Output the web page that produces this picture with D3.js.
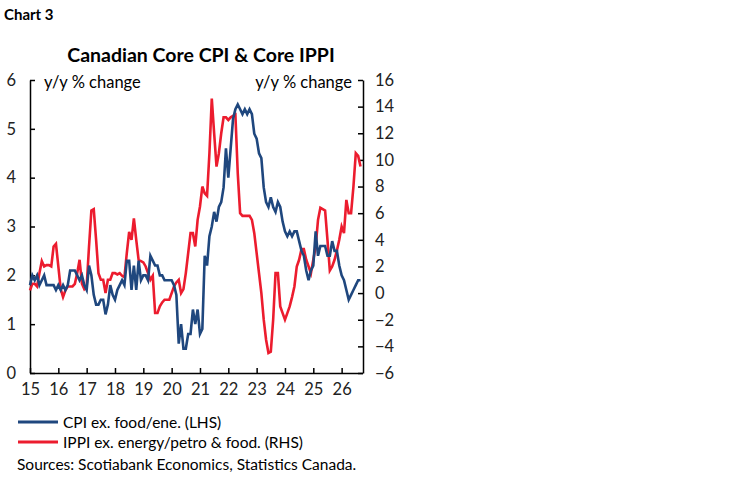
<!DOCTYPE html><html><head><meta charset="utf-8">
<script src="https://cdn.jsdelivr.net/npm/d3@7"></script>
<style>body{margin:0;background:#fff}text{font-family:Lato,"Open Sans",sans-serif}</style></head><body>
<svg id="c" width="748" height="483"></svg>
<script>
const cpi=[1.8,2.0,1.9,2.0,1.8,1.9,2.0,1.8,1.8,1.8,1.8,1.7,
1.8,1.7,1.8,1.7,1.8,2.1,2.1,2.1,2.0,1.9,2.0,1.8,
1.7,2.2,2.0,1.6,1.4,1.4,1.5,1.5,1.2,1.4,1.8,1.6,
1.5,1.7,1.8,1.9,1.8,2.3,2.3,1.7,2.2,1.7,2.3,1.9,
2.0,2.0,1.9,2.4,2.3,2.2,2.2,2.0,2.0,1.9,1.9,1.9,
1.9,1.8,1.6,0.6,1.0,0.5,0.5,0.8,0.8,1.3,1.0,1.3,
0.8,0.9,2.4,2.2,2.8,3.0,3.3,3.1,3.4,3.5,3.8,4.6,
4.0,4.6,5.2,5.4,5.5,5.4,5.3,5.4,5.3,5.4,5.3,4.9,
4.8,4.5,4.4,3.8,3.5,3.4,3.6,3.4,3.3,3.5,3.4,3.1,
2.9,2.8,2.9,2.8,2.9,2.9,2.7,2.5,2.4,2.1,1.9,2.1,
2.2,2.9,2.4,2.6,2.6,2.6,2.4,2.4,2.7,2.5,2.5,2.2,
2.0,1.9,1.7,1.5,1.6,1.7,1.8,1.9,1.9];
const ippi=[0.2,0.7,0.7,0.5,1.5,2.4,2.0,2.1,2.1,2.0,3.5,3.7,
2.0,0.3,-0.3,0.2,0.5,0.5,0.5,0.7,1.5,2.5,0.7,0.3,
0.5,3.5,6.2,6.3,4.0,1.5,1.0,1.0,0.0,1.0,1.0,1.5,
1.5,1.4,1.5,1.3,1.2,3.0,4.6,4.0,5.6,4.0,2.5,2.4,
2.3,2.0,1.5,1.0,1.3,-1.5,-1.5,-1.0,-0.7,-0.5,-0.5,-0.5,
0.0,0.5,0.8,1.0,0.0,0.3,1.5,3.0,4.5,4.5,3.5,5.5,
6.5,8.0,7.5,7.3,10.5,14.6,12.0,9.5,10.5,12.0,13.2,13.2,
13.0,13.2,13.3,13.4,9.0,6.0,5.8,5.8,5.8,5.8,5.5,4.5,
3.0,1.5,0.0,-2.0,-3.5,-4.5,-4.4,-2.0,1.5,1.5,-1.0,-1.5,
-2.0,-1.5,-1.0,-0.3,0.5,2.0,2.5,3.3,3.3,2.5,2.0,1.5,
2.5,3.5,5.5,6.4,6.3,6.2,4.0,1.7,2.0,2.5,3.2,4.0,
5.0,4.5,7.0,6.0,6.0,8.0,10.5,10.3,9.5];
const xLabels=["15","16","17","18","19","20","21","22","23","24","25","26"];
const leftTicks=[0,1,2,3,4,5,6], rightTicks=[-6,-4,-2,0,2,4,6,8,10,12,14,16];
const svg=d3.select("#c");
const L=30,R=363,T=80,B=373;
const x=d3.scaleLinear().domain([0,141]).range([L,L+141*28.33/12]);
const yl=d3.scaleLinear().domain([0,6]).range([B,T]);
const yr=d3.scaleLinear().domain([-6,16]).range([B,T]);
svg.append("text").attr("x",4).attr("y",20).attr("font-weight","bold").attr("font-size",15).text("Chart 3");
svg.append("text").attr("x",201).attr("y",62).attr("text-anchor","middle").attr("font-weight","bold").attr("font-size",19.5).text("Canadian Core CPI & Core IPPI");
const xs=d3.scaleLinear().domain([0,12]).range([L,L+12*28.33]);
svg.append("g").attr("transform",`translate(0,${B})`).call(d3.axisBottom(xs).tickValues(d3.range(0,12)).tickSizeInner(-5).tickSizeOuter(0).tickFormat(i=>xLabels[i]).tickPadding(10))
 .call(g=>{g.select(".domain").attr("d",`M${L},0.5H${R}`);});
svg.append("g").attr("transform",`translate(${L},0)`).call(d3.axisLeft(yl).tickValues(leftTicks).tickFormat(d3.format("d")).tickSizeInner(-5).tickSizeOuter(0).tickPadding(14));
svg.append("g").attr("transform",`translate(${R},0)`).call(d3.axisRight(yr).tickValues(rightTicks).tickSizeInner(-5).tickSizeOuter(0).tickPadding(12));
svg.selectAll(".tick text").attr("font-size",16.5).attr("fill","#222");
svg.selectAll(".domain,.tick line").attr("stroke","#000").attr("stroke-width",1.5);
svg.append("text").attr("x",44).attr("y",88).attr("font-size",16.5).text("y/y % change");
svg.append("text").attr("x",352).attr("y",88).attr("text-anchor","end").attr("font-size",16.5).text("y/y % change");
const line=(y)=>d3.line().x((d,i)=>x(i)).y(d=>y(d));
svg.append("path").datum(ippi).attr("d",line(yr)).attr("fill","none").attr("stroke","#ec1c2e").attr("stroke-width",2.6);
svg.append("path").datum(cpi).attr("d",line(yl)).attr("fill","none").attr("stroke","#1f477e").attr("stroke-width",2.6);
const leg=[["CPI ex. food/ene. (LHS)","#1f477e"],["IPPI ex. energy/petro & food. (RHS)","#ec1c2e"]];
leg.forEach((d,i)=>{const yy=422+i*20;
 svg.append("line").attr("x1",18).attr("x2",58).attr("y1",yy).attr("y2",yy).attr("stroke",d[1]).attr("stroke-width",3);
 svg.append("text").attr("x",63).attr("y",yy+5.5).attr("font-size",15.5).text(d[0]);});
svg.append("text").attr("x",17).attr("y",470).attr("font-size",15.5).text("Sources: Scotiabank Economics, Statistics Canada.");
</script></body></html>
